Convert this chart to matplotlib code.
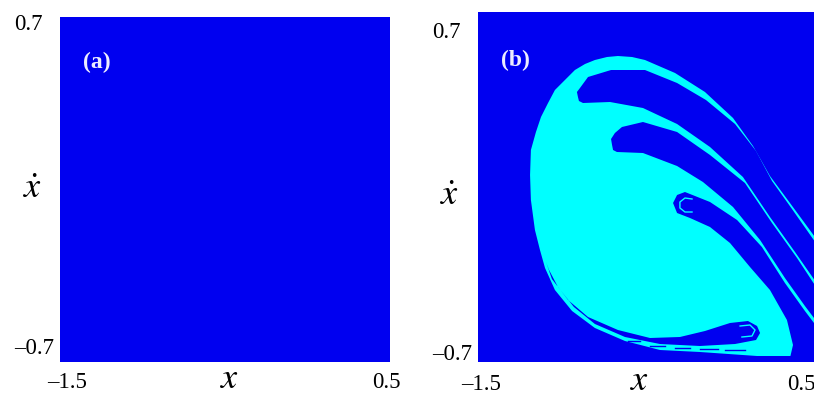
import matplotlib
matplotlib.use("Agg")
import matplotlib.pyplot as plt

# --- colours / fonts ---
blue = "#0000f0"
cyan = "#00ffff"
plt.rcParams['font.family'] = ['Liberation Serif', 'DejaVu Serif']
plt.rcParams['mathtext.fontset'] = 'stix'

x_lim = [-1.5, 0.5]
y_lim = [-0.7, 0.7]

# --- panel (b): basin outlines (x, xdot) ---
# whole cyan region, the outer thin stripe included
env_x = [0.536, 0.536, 0.161, -0.179, -0.417, -0.625, -0.804, -0.940, -1.042, -1.101,
         -1.131, -1.161, -1.185, -1.190, -1.185, -1.155, -1.125, -1.083, -1.042, -0.923,
         -0.863, -0.804, -0.732, -0.667, -0.583, -0.506, -0.327, -0.149, 0.018, 0.137,
         0.238, 0.357]
env_y = [-0.228, -0.676, -0.676, -0.660, -0.652, -0.616, -0.564, -0.496, -0.412, -0.324,
         -0.252, -0.172, -0.052, 0.048, 0.148, 0.220, 0.280, 0.336, 0.388, 0.468,
         0.492, 0.508, 0.520, 0.524, 0.520, 0.508, 0.456, 0.380, 0.276, 0.164,
         0.044, -0.064]

# blue fingers cutting into it from the right
f1_x = [-0.905, -0.911, -0.893, -0.845, -0.708, -0.506, -0.315, -0.143, 0.030, 0.155, 0.250, 0.369,
        0.536, 0.536, 0.387, 0.238, 0.077, -0.119, -0.315, -0.518, -0.714, -0.875, -0.899]
f1_y = [0.360, 0.380, 0.396, 0.440, 0.468, 0.468, 0.416, 0.348, 0.252, 0.144, 0.024, -0.088,
        -0.248, -0.404, -0.260, -0.120, 0.040, 0.160, 0.252, 0.316, 0.340, 0.336, 0.344]

f2_x = [-0.702, -0.708, -0.685, -0.643, -0.518, -0.315, -0.119, 0.089, 0.250, 0.399, 0.536,
        0.536, 0.446, 0.327, 0.179, 0.018, -0.161, -0.315, -0.518, -0.673, -0.696]
f2_y = [0.168, 0.192, 0.216, 0.240, 0.260, 0.220, 0.128, 0.016, -0.144, -0.284, -0.424,
        -0.556, -0.476, -0.364, -0.212, -0.080, 0.020, 0.084, 0.136, 0.140, 0.148]

f3_x = [-0.339, -0.315, -0.268, -0.119, 0.042, 0.190, 0.327, 0.446, 0.536, 0.595, 0.595, 0.357,
        0.357, 0.375, 0.339, 0.238, 0.119, 0.000, -0.119, -0.238, -0.315]
f3_y = [-0.064, -0.032, -0.020, -0.060, -0.132, -0.240, -0.384, -0.496, -0.576, -0.576, -0.732, -0.732,
        -0.684, -0.632, -0.532, -0.412, -0.320, -0.224, -0.160, -0.124, -0.104]

f4_x = [-1.095, -1.060, -0.964, -0.845, -0.667, -0.476, -0.298, -0.149, 0.000, 0.107, 0.161, 0.179,
        0.155, 0.030, -0.179, -0.417, -0.625, -0.804, -0.929, -1.024, -1.077]
f4_y = [-0.300, -0.368, -0.452, -0.520, -0.572, -0.604, -0.600, -0.576, -0.544, -0.536, -0.556, -0.584,
        -0.612, -0.628, -0.636, -0.628, -0.600, -0.548, -0.480, -0.400, -0.332]

# small cyan curls inside the finger tips
curl3_x = [-0.226, -0.268, -0.298, -0.298, -0.268, -0.226]
curl3_y = [-0.048, -0.044, -0.060, -0.084, -0.100, -0.100]
curl4_x = [0.060, 0.119, 0.149, 0.131, 0.071]
curl4_y = [-0.556, -0.552, -0.572, -0.596, -0.600]

# blue dashes in the bottom cyan strip: (x start, x end, y)
dash_x0 = [-0.607, -0.476, -0.327, -0.179, -0.030]
dash_x1 = [-0.536, -0.387, -0.238, -0.071, 0.089]
dash_y = [-0.616, -0.636, -0.644, -0.648, -0.652]

fig = plt.figure(figsize=(8.14, 4), dpi=100)
ax_a = fig.add_axes([0.0737, 0.095, 0.4054, 0.8625])
ax_b = fig.add_axes([0.5872, 0.095, 0.4128, 0.875])

for ax in (ax_a, ax_b):
    ax.set_facecolor(blue)
    ax.set_xlim(x_lim)
    ax.set_ylim(y_lim)
    ax.set_xticks([])
    ax.set_yticks([])
    for s in ax.spines.values():
        s.set_visible(False)

ax_b.fill(env_x, env_y, color=cyan, lw=0)
for fx, fy in [(f1_x, f1_y), (f2_x, f2_y), (f3_x, f3_y), (f4_x, f4_y)]:
    ax_b.fill(fx, fy, color=blue, lw=0)
ax_b.plot(curl3_x, curl3_y, color=cyan, lw=1.0)
ax_b.plot(curl4_x, curl4_y, color=cyan, lw=1.0)
for a, b, y in zip(dash_x0, dash_x1, dash_y):
    ax_b.plot([a, b], [y, y], color=blue, lw=1.0)

# --- texts (figure pixel positions / 814x400) ---
def ftext(px, py, s, **kw):
    fig.text(px / 814, 1 - py / 400, s, ha='center', va='center', **kw)

tick_fs = 16.5

ftext(28, 24, "0.7", fontsize=tick_fs)
ftext(34, 348, "\u20130.7", fontsize=tick_fs)
ftext(67, 382, "\u20131.5", fontsize=tick_fs)
ftext(386, 382, "0.5", fontsize=tick_fs)
ftext(230, 380, "$x$", fontsize=26)
ftext(33, 190, r"$\dot{x}$", fontsize=26)
ftext(97, 62, "(a)", fontsize=17, fontweight='bold', color='#ececff')

ftext(446, 33, "0.7", fontsize=tick_fs)
ftext(452, 355, "\u20130.7", fontsize=tick_fs)
ftext(481, 385, "\u20131.5", fontsize=tick_fs)
ftext(801, 385, "0.5", fontsize=tick_fs)
ftext(640, 382, "$x$", fontsize=26)
ftext(450, 197, r"$\dot{x}$", fontsize=26)
ftext(515, 60, "(b)", fontsize=17, fontweight='bold', color='#ececff')

fig.savefig("out.png", dpi=100)
